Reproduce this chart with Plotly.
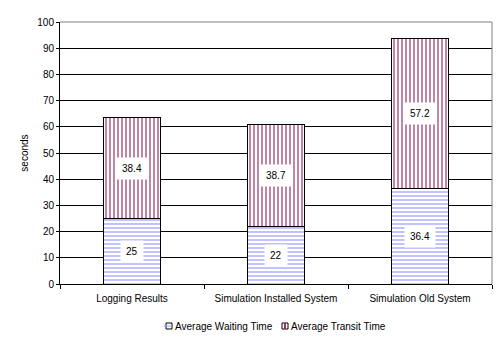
import plotly.graph_objects as go

categories = ["Logging Results", "Simulation Installed System", "Simulation Old System"]
waiting = [25, 22, 36.4]
transit = [38.4, 38.7, 57.2]
waiting_name = "Average Waiting Time"
transit_name = "Average Transit Time"
y_ticks = list(range(0, 101, 10))

FONT = "Liberation Sans, Arial, sans-serif"
BLUE = "#9999FF"
MAROON = "#993366"

# figure / plot-area geometry (pixels)
W, H = 504, 341
L, R, T, B = 60, 12, 22, 57
PW, PH = W - L - R, H - T - B


def px_x(px):
    return (px - L) / PW


def px_y(py):
    return (H - B - py) / PH


fig = go.Figure()
fig.add_trace(go.Bar(
    x=categories, y=waiting, name=waiting_name,
    marker=dict(color="white", line=dict(color="black", width=1),
                pattern=dict(shape="-", fgcolor=BLUE, bgcolor="white",
                             size=4, solidity=0.3, fillmode="replace")),
))
fig.add_trace(go.Bar(
    x=categories, y=transit, name=transit_name,
    marker=dict(color="white", line=dict(color="black", width=1),
                pattern=dict(shape="|", fgcolor=MAROON, bgcolor="white",
                             size=4, solidity=0.3, fillmode="replace")),
))

annotations = []
for c, w, t in zip(categories, waiting, transit):
    annotations.append(dict(x=c, y=w / 2, text=f"{w:g}", showarrow=False,
                            bgcolor="white", borderpad=5,
                            font=dict(family=FONT, size=10, color="black")))
    annotations.append(dict(x=c, y=w + t / 2, text=f"{t:g}", showarrow=False,
                            bgcolor="white", borderpad=5,
                            font=dict(family=FONT, size=10, color="black")))

# custom compact legend (small squares like the original)
legend_items = [(waiting_name, BLUE, "h", 166), (transit_name, MAROON, "v", 282)]
shapes = [
    dict(type="line", xref="paper", yref="paper", x0=0, x1=1, y0=1, y1=1,
         line=dict(color="#808080", width=1), layer="above"),
    dict(type="line", xref="paper", yref="paper", x0=1, x1=1, y0=0, y1=1,
         line=dict(color="#808080", width=1), layer="above"),
]
ly = 326
for name, col, orient, sx in legend_items:
    shapes.append(dict(type="rect", xref="paper", yref="paper",
                       x0=px_x(sx), x1=px_x(sx + 6), y0=px_y(ly + 3), y1=px_y(ly - 3),
                       line=dict(color="black", width=1), fillcolor="white"))
    if orient == "h":
        shapes.append(dict(type="line", xref="paper", yref="paper",
                           x0=px_x(sx - 2), x1=px_x(sx + 6), y0=px_y(ly), y1=px_y(ly),
                           line=dict(color=col, width=1)))
    else:
        shapes.append(dict(type="rect", xref="paper", yref="paper",
                           x0=px_x(sx + 2), x1=px_x(sx + 4), y0=px_y(ly + 3), y1=px_y(ly - 3),
                           line=dict(width=0), fillcolor=col))
    annotations.append(dict(xref="paper", yref="paper", x=px_x(sx + 8), y=px_y(ly),
                            xanchor="left", yanchor="middle", text=name, showarrow=False,
                            borderpad=0,
                            font=dict(family=FONT, size=10, color="black")))

fig.update_layout(
    width=W, height=H,
    margin=dict(l=L, r=R, t=T, b=B),
    barmode="stack", bargap=0.6,
    paper_bgcolor="white", plot_bgcolor="white",
    font=dict(family=FONT, size=10, color="black"),
    showlegend=False,
    annotations=annotations,
    shapes=shapes,
)
fig.update_xaxes(showline=True, linecolor="black", linewidth=1,
                 ticks="outside", tickson="boundaries", ticklen=4, tickcolor="black",
                 ticklabelstandoff=5,
                 tickfont=dict(family=FONT, size=10, color="black"),
                 showgrid=False)
fig.update_yaxes(range=[0, 100], tickvals=y_ticks, showline=True, linecolor="black",
                 linewidth=1, ticks="outside", ticklen=3, tickcolor="black",
                 showgrid=True, gridcolor="black", gridwidth=1, zeroline=False,
                 tickfont=dict(family=FONT, size=10, color="black"),
                 title=dict(text="seconds", standoff=6,
                            font=dict(family=FONT, size=10, color="black")))

fig.write_html("out.html")
